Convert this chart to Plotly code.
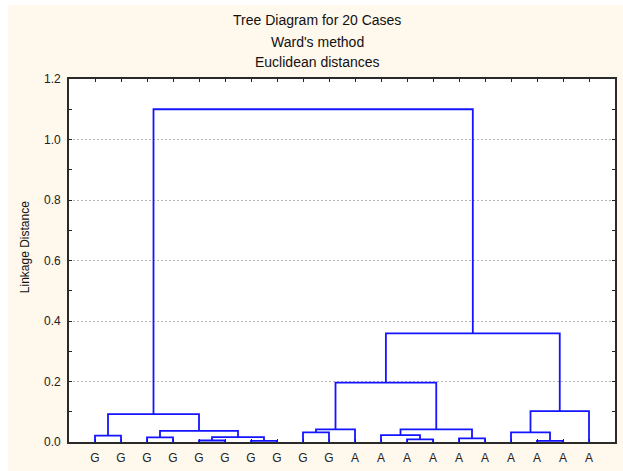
import plotly.graph_objects as go

# Case labels in dendrogram leaf order
leaf_labels = ["G", "G", "G", "G", "G", "G", "G", "G", "G", "G",
               "A", "A", "A", "A", "A", "A", "A", "A", "A", "A"]

# Ward linkage steps: (left node, right node, linkage distance).
# Nodes 0-19 are the cases above; node 20+k is the cluster formed at step k.
merge_left = [4, 6, 17, 12, 14, 2, 20, 0, 11, 8, 16, 25, 29, 28, 27, 30, 32, 36, 34]
merge_right = [5, 7, 18, 13, 15, 3, 21, 1, 23, 9, 22, 26, 10, 24, 31, 19, 33, 35, 37]
merge_height = [0.005, 0.004, 0.004, 0.009, 0.012, 0.015, 0.016, 0.021, 0.023, 0.032,
                0.032, 0.037, 0.042, 0.042, 0.092, 0.102, 0.196, 0.359, 1.100]

y_ticks = [0.0, 0.2, 0.4, 0.6, 0.8, 1.0, 1.2]
title_lines = ["Tree Diagram for 20 Cases", "Ward's method", "Euclidean distances"]

n = len(leaf_labels)
node_x = {i: i + 1 for i in range(n)}
node_h = {i: 0.0 for i in range(n)}

xs, ys = [], []
for k, (a, b, h) in enumerate(zip(merge_left, merge_right, merge_height)):
    xa, xb = node_x[a], node_x[b]
    xs += [xa, xa, xb, xb, None]
    ys += [node_h[a], h, h, node_h[b], None]
    node_x[n + k] = (xa + xb) / 2
    node_h[n + k] = h

FONT = "Liberation Sans, Arial, sans-serif"
BLUE = "#1414ff"
CREAM = "#fff8ec"

fig = go.Figure(go.Scatter(x=xs, y=ys, mode="lines",
                           line=dict(color=BLUE, width=1.8),
                           hoverinfo="skip", showlegend=False))

fig.update_layout(
    width=623, height=471,
    margin=dict(l=69, r=6, t=79, b=29),
    paper_bgcolor="white",
    plot_bgcolor="white",
    font=dict(family=FONT, size=12, color="#222"),
    showlegend=False,
    shapes=[
        dict(type="rect", xref="paper", yref="paper",
             x0=-0.1113, x1=1.05, y0=-0.2, y1=1.2039,
             fillcolor=CREAM, line=dict(width=0), layer="below"),
        dict(type="rect", xref="x domain", yref="y domain",
             x0=0, x1=1, y0=0, y1=1,
             fillcolor="white", line=dict(width=0), layer="below"),
    ],
)

fig.update_xaxes(
    range=[0, n + 1],
    tickmode="array",
    tickvals=list(range(1, n + 1)),
    ticktext=leaf_labels,
    ticks="inside", ticklen=3, tickcolor="#222",
    showgrid=False, zeroline=False,
    showline=True, linecolor="#2a2a2a", linewidth=1.8, mirror="ticks",
    tickfont=dict(family=FONT, size=12, color="#222"),
    ticklabelstandoff=4,
)

fig.update_yaxes(
    range=[0, 1.2],
    tickmode="array",
    tickvals=y_ticks,
    ticktext=[f"{v:.1f}" for v in y_ticks],
    ticks="inside", ticklen=3, tickcolor="#222",
    minor=dict(dtick=0.1, ticks="inside", ticklen=3, tickcolor="#222", showgrid=False),
    showgrid=True, gridcolor="#b4b4b4", griddash="2px,2px", gridwidth=1,
    zeroline=False,
    showline=True, linecolor="#2a2a2a", linewidth=1.8, mirror="ticks",
    tickfont=dict(family=FONT, size=12, color="#222"),
    ticklabelstandoff=4,
)

title_y = [1.1625, 1.1019, 1.0468]
for text, ty in zip(title_lines, title_y):
    fig.add_annotation(text=text, xref="paper", yref="paper", x=0.455, y=ty,
                       xanchor="center", yanchor="middle", showarrow=False,
                       font=dict(family=FONT, size=14, color="#111"))

fig.add_annotation(text="Linkage Distance", xref="paper", yref="paper",
                   x=(25 - 69) / 548, y=(442 - 247) / 363,
                   xanchor="center", yanchor="middle", textangle=-90,
                   showarrow=False, font=dict(family=FONT, size=12, color="#111"))

fig.write_html("out.html")
